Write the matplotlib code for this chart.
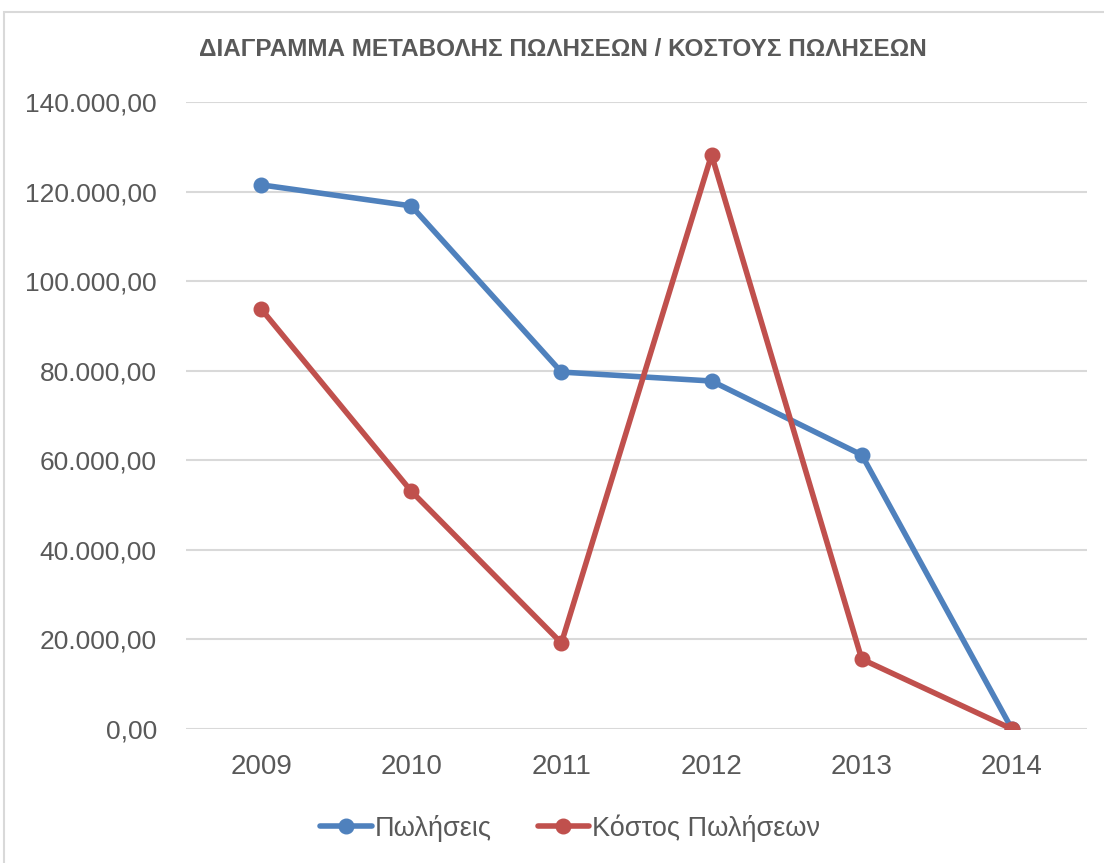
import matplotlib
matplotlib.use("Agg")
import matplotlib.pyplot as plt
from matplotlib.patches import Rectangle

years = ["2009", "2010", "2011", "2012", "2013", "2014"]
sales = [121500, 116800, 79700, 77700, 61200, 0]
cost_of_sales = [93800, 53100, 19200, 128200, 15600, 0]
yticks = [0, 20000, 40000, 60000, 80000, 100000, 120000, 140000]
title = "ΔΙΑΓΡΑΜΜΑ ΜΕΤΑΒΟΛΗΣ ΠΩΛΗΣΕΩΝ / ΚΟΣΤΟΥΣ ΠΩΛΗΣΕΩΝ"
labels = ["Πωλήσεις", "Κόστος Πωλήσεων"]

plt.rcParams['font.family'] = ['Liberation Sans', 'DejaVu Sans']
text_color = "#595959"

fig = plt.figure(figsize=(11.04, 8.63), dpi=100)
fig.patches.append(Rectangle((4/1104, -0.1), 1.2, 1 - 12/863 + 0.1, transform=fig.transFigure,
                             facecolor="none", edgecolor="#D9D9D9", linewidth=1.5))
ax = fig.add_axes([186/1104, 1 - 729/863, (1087 - 186)/1104, (729 - 102)/863])

x = list(range(len(years)))
ax.plot(x, sales, color="#4F81BD", linewidth=4, marker="o", markersize=10.5, label=labels[0],
        solid_capstyle="round", zorder=3)
ax.plot(x, cost_of_sales, color="#C0504D", linewidth=4, marker="o", markersize=10.5, label=labels[1],
        solid_capstyle="round", zorder=3)

ax.set_xlim(-0.5, len(years) - 0.5)
ax.set_ylim(0, 140000)
ax.set_yticks(yticks)
ax.set_yticklabels([f"{v:,.2f}".replace(",", "X").replace(".", ",").replace("X", ".") for v in yticks])
ax.set_xticks(x)
ax.set_xticklabels(years)
ax.grid(axis="y", color="#D9D9D9", linewidth=1.5)
ax.set_axisbelow(True)
for s in ax.spines.values():
    s.set_visible(False)
ax.tick_params(axis="both", length=0, colors=text_color)
ax.tick_params(axis="y", pad=21, labelsize=19)
ax.tick_params(axis="x", pad=18, labelsize=20)

fig.text(563/1104, 1 - 50/863, title, ha="center", va="center", fontsize=17.5, fontweight="bold",
         color=text_color)

leg = ax.legend(loc="center", bbox_to_anchor=(570/1104, 1 - 828/863), bbox_transform=fig.transFigure,
                ncol=2, frameon=False, fontsize=19.5, handlelength=1.9, handletextpad=0.1,
                columnspacing=1.7, labelcolor=text_color)

fig.savefig("out.png", dpi=100)
